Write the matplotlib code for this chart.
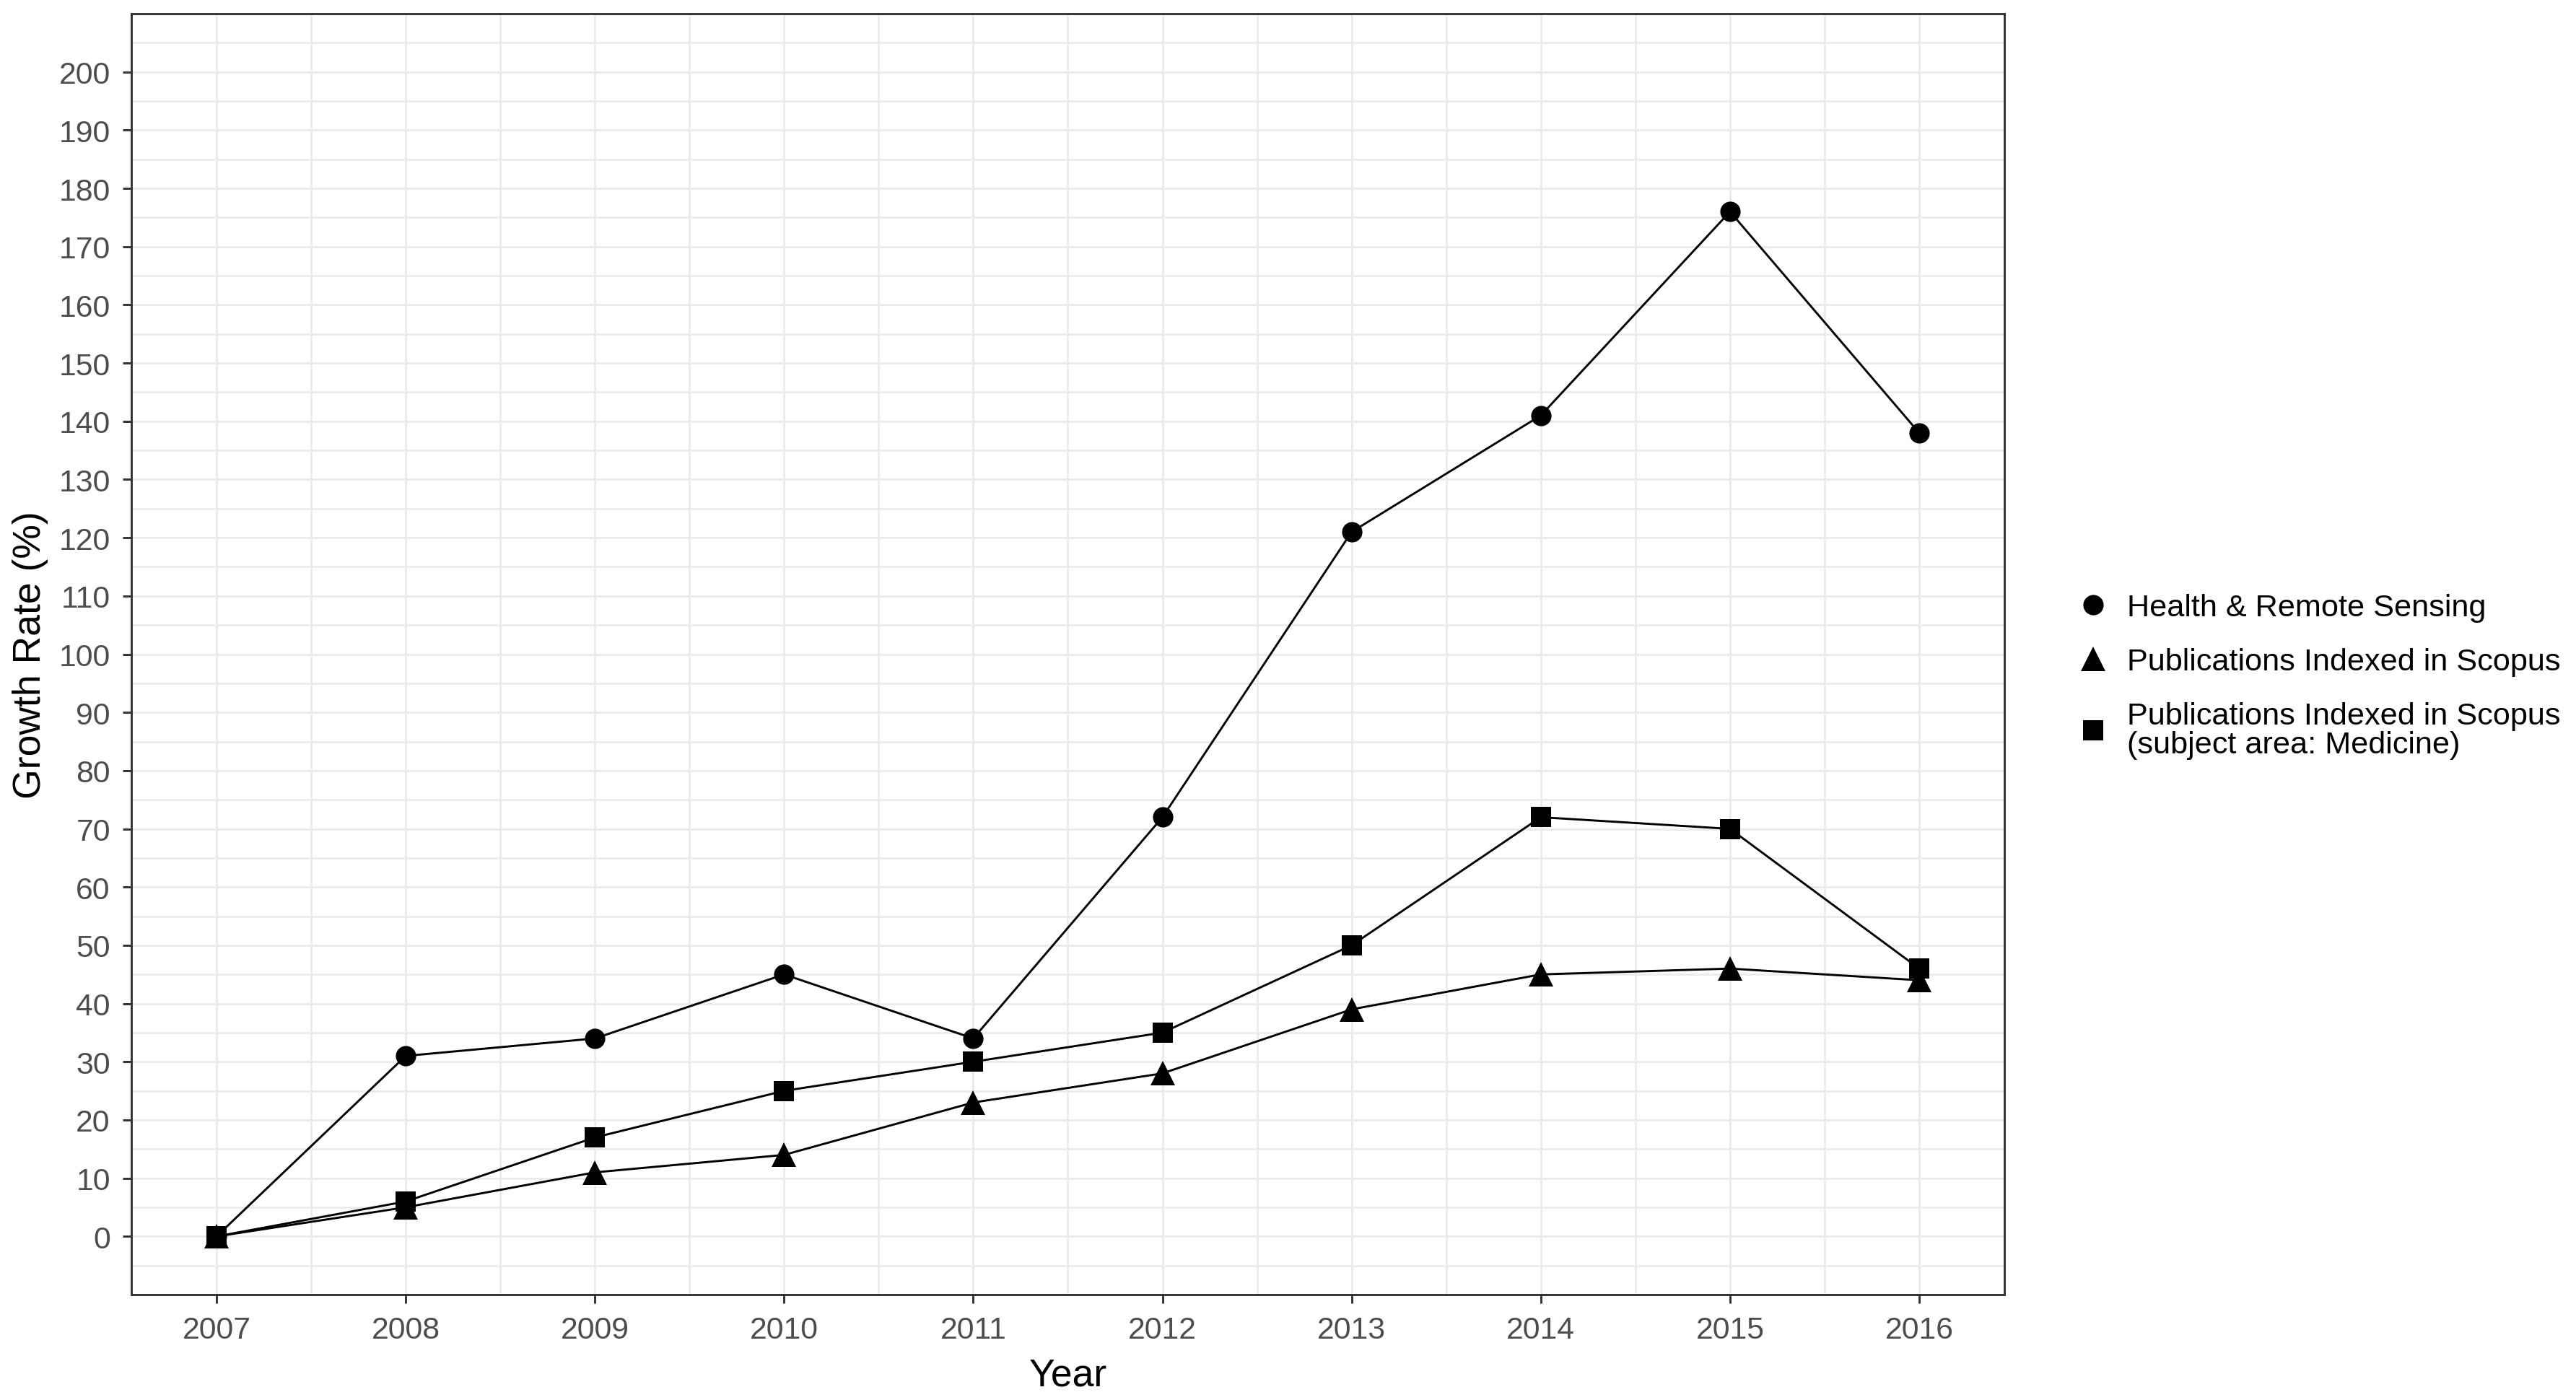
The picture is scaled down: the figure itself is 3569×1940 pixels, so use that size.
import numpy as np
import matplotlib.pyplot as plt
from matplotlib.ticker import MultipleLocator

plt.rcParams['font.family'] = ['Liberation Sans', 'DejaVu Sans']

# --- data ---
years = [2007, 2008, 2009, 2010, 2011, 2012, 2013, 2014, 2015, 2016]
health_rs = [0, 31, 34, 45, 34, 72, 121, 141, 176, 138]
scopus_all = [0, 5, 11, 14, 23, 28, 39, 45, 46, 44]
scopus_med = [0, 6, 17, 25, 30, 35, 50, 72, 70, 46]
y_ticks = list(range(0, 201, 10))

labels = ["Health & Remote Sensing",
          "Publications Indexed in Scopus",
          "Publications Indexed in Scopus\n(subject area: Medicine)"]
markers = ['o', '^', 's']
msizes = [5.8, 7.0, 5.7]

W, H, DPI = 3569, 1941, 350
fig = plt.figure(figsize=(W / DPI, H / DPI), dpi=DPI)
ax = fig.add_axes([182 / W, 1 - 1795 / H, (2777 - 182) / W, (1795 - 20) / H])

grid_col = '#EBEBEB'
ax.set_xlim(2006.55, 2016.45)
ax.set_ylim(-10, 210)
ax.set_xticks(years)
ax.set_xticklabels([str(y) for y in years])
ax.set_yticks(y_ticks)
ax.xaxis.set_minor_locator(MultipleLocator(0.5))
ax.yaxis.set_minor_locator(MultipleLocator(5))
ax.grid(which='major', color=grid_col, linewidth=0.6)
ax.grid(which='minor', color=grid_col, linewidth=0.55)
ax.set_axisbelow(True)

series = [health_rs, scopus_all, scopus_med]
for vals, lab, m, ms in zip(series, labels, markers, msizes):
    ax.plot(years, vals, color='black', linewidth=0.6, zorder=3)
    ax.plot(years, vals, linestyle='none', marker=m, markersize=ms,
            markeredgewidth=0, color='black', label=lab, zorder=4)

for sp in ax.spines.values():
    sp.set_color('#333333')
    sp.set_linewidth(0.6)

ax.tick_params(which='major', length=2.4, width=0.6, color='#333333',
               labelcolor='#4D4D4D', labelsize=8.8, pad=3.6)
ax.tick_params(which='minor', length=0)

ax.set_xlabel("Year", fontsize=11, labelpad=3.6)
ax.set_ylabel("Growth Rate (%)", fontsize=11, labelpad=3)

leg = ax.legend(loc='center left', bbox_to_anchor=(2878 / W, 1 - 938 / H),
                bbox_transform=fig.transFigure, frameon=False, fontsize=8.9,
                handlelength=1.0, handletextpad=0.6, labelspacing=0.8,
                borderaxespad=0, borderpad=0)
for t in leg.get_texts():
    t.set_linespacing(1.0)

fig.savefig("out.png", dpi=DPI, facecolor='white')
